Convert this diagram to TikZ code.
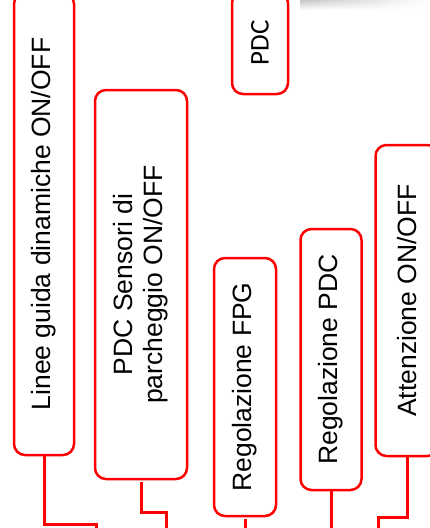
\documentclass[tikz,border=0pt]{standalone}
\usepackage{fontspec}
\setmainfont{Liberation Sans}
\newfontfamily\calibrifont{Carlito}
\usetikzlibrary{fadings}

\begin{document}
\begin{tikzpicture}[x=1pt,y=-1pt]
	\useasboundingbox (0,0) rectangle (429,528);
	\shade[top color=black!22, bottom color=white, path fading=east] (300,0) rectangle (429,10);
	\begin{scope}[every node/.style = {rectangle, rounded corners=11pt, draw=red, line width=2.5pt,
			rotate=90, align=center, inner sep=0pt,
			font=\fontsize{26.5}{30}\selectfont}]
		\node[minimum width=462pt, minimum height=60pt] (L) at (44,224) {Linee guida dinamiche ON/OFF};
		\node[minimum width=389pt, minimum height=92pt] (S) at (141,284.5) {PDC Sensori di\\parcheggio ON/OFF};
		\node[minimum width=258pt, minimum height=62pt] (F) at (245,387) {Regolazione FPG};
		\node[minimum width=261pt, minimum height=61pt] (R) at (331,359.5) {Regolazione PDC};
		\node[minimum width=311pt, minimum height=63pt] (A) at (407,300.5) {Attenzione ON/OFF};
		\node[minimum width=102pt, minimum height=56pt, font=\calibrifont\fontsize{27}{30}\selectfont] (P) at (260,43) {PDC};
	\end{scope}
	% free ends below the page
	\coordinate (l1) at (96,540);
	\coordinate (s1) at (166,540);
	\coordinate (f1) at (243,540);
	\coordinate (r1) at (333,540);
	\coordinate (a1) at (378,540);
	\begin{scope}[draw=red, line width=3pt]
		\draw ([xshift=0pt]L.west) -- (L.west |- 0,524) -| (l1);
		\draw ([yshift=-2pt]S.west) -- ([yshift=-2pt]S.west |- 0,510) -| (s1);
		\draw ([yshift=-2pt]F.west) -- ([yshift=-2pt]F.west |- f1);
		\draw ([yshift=2pt]R.west) -- ([yshift=2pt]R.west |- r1);
		\draw ([yshift=1pt]A.west) -- ([yshift=1pt]A.west |- 0,518) -| (a1);
	\end{scope}
\end{tikzpicture}
\end{document}
